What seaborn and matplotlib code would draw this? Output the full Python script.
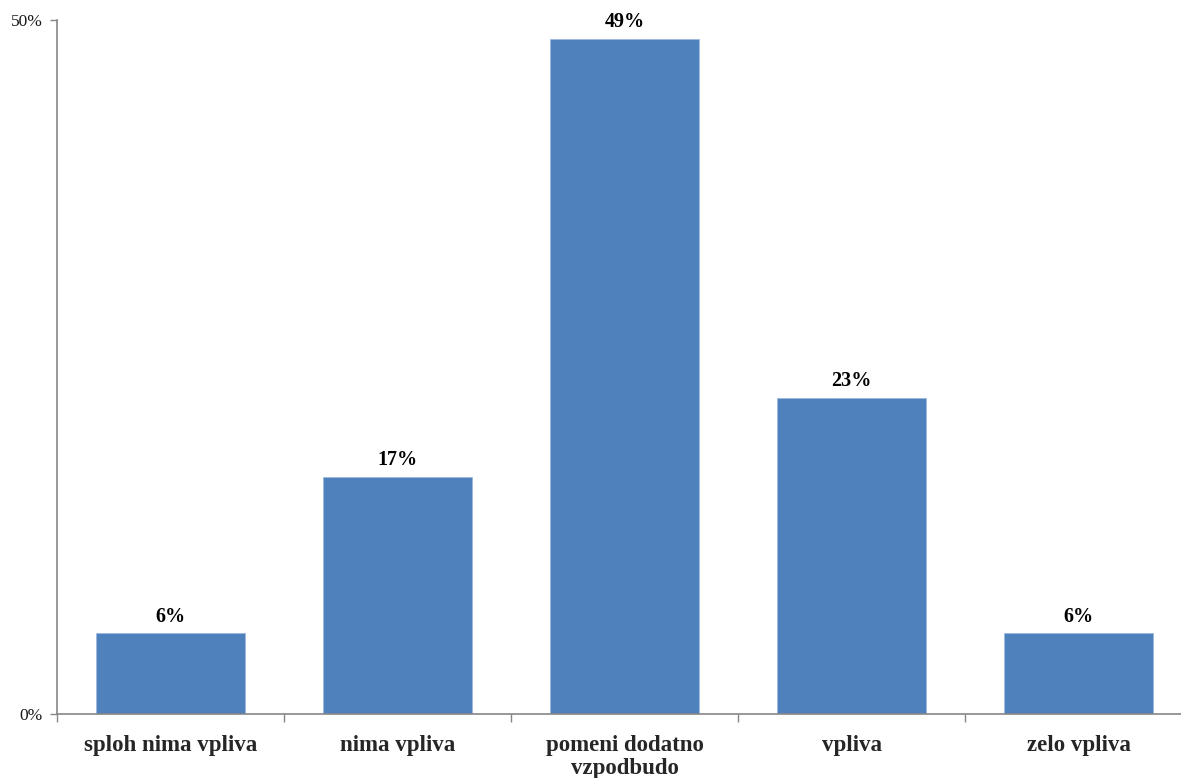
import matplotlib
matplotlib.use("Agg")
import matplotlib.pyplot as plt
from matplotlib.ticker import FixedLocator, FuncFormatter
import seaborn as sns
import pandas as pd

categories = ["sploh nima vpliva", "nima vpliva", "pomeni dodatno\nvzpodbudo", "vpliva", "zelo vpliva"]
shares = [5.8, 17.1, 48.6, 22.8, 5.8]
y_ticks = [0, 50]

sns.set_theme(style="white")
plt.rcParams["font.family"] = ["Liberation Serif", "DejaVu Serif"]

df = pd.DataFrame({"category": categories, "share": shares})

fig = plt.figure(figsize=(11.81, 7.78), dpi=100)
ax = fig.add_axes([57 / 1181, 1 - 714 / 778, 1135 / 1181, 694 / 778])

sns.barplot(data=df, x="category", y="share", color="#4F81BD", saturation=1,
            width=0.66, edgecolor="#9DB9DD", linewidth=0.6, ax=ax)

ax.set_ylim(0, 50)
ax.set_xlim(-0.5, len(categories) - 0.5)
ax.yaxis.set_major_locator(FixedLocator(y_ticks))
ax.yaxis.set_major_formatter(FuncFormatter(lambda v, _: f"{v:.0f}%"))
ax.set_xlabel("")
ax.set_ylabel("")

for side in ("top", "right"):
    ax.spines[side].set_visible(False)
for side in ("left", "bottom"):
    ax.spines[side].set_color("#868686")
    ax.spines[side].set_linewidth(1.2)

ax.tick_params(axis="y", which="major", left=True, length=5, width=1, color="#868686",
               labelsize=12.5, pad=5, labelcolor="#1a1a1a")
ax.tick_params(axis="x", which="major", bottom=False, labelsize=16.5, pad=9)
ax.set_xticks(range(len(categories)))
ax.set_xticklabels(categories, fontweight="bold", linespacing=1.15)
ax.xaxis.set_minor_locator(FixedLocator([i + 0.5 for i in range(-1, len(categories))]))
ax.tick_params(axis="x", which="minor", bottom=True, length=6, width=1, color="#868686")

for container in ax.containers:
    ax.bar_label(container, labels=[f"{v:.0f}%" for v in shares], padding=5,
                 fontsize=14.5, fontweight="bold", color="black")

fig.savefig("out.png", dpi=100)
